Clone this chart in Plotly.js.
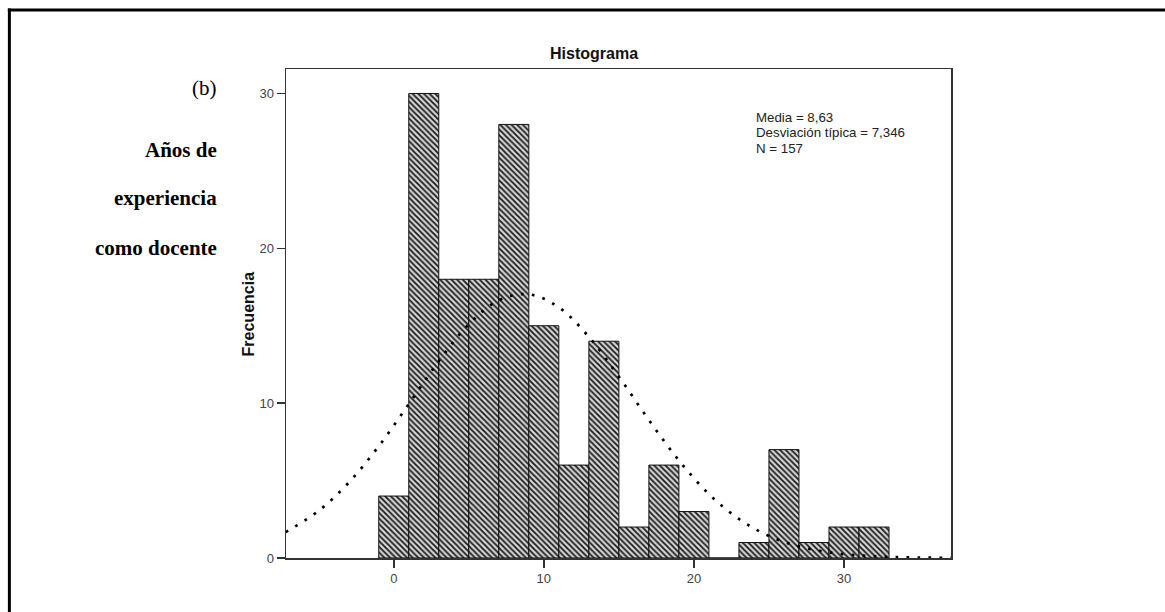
<!DOCTYPE html>
<html>
<head>
<meta charset="utf-8">
<script src="https://cdn.plot.ly/plotly-3.0.1.min.js"></script>
<style>
html,body{margin:0;padding:0;background:#fff;}
#chart{width:1165px;height:612px;}
</style>
</head>
<body>
<div id="chart"></div>
<script>
// ---- Data ----
const binCenters = [0, 2, 4, 6, 8, 10, 12, 14, 16, 18, 20, 22, 24, 26, 28, 30, 32];
const binCounts  = [4, 30, 18, 18, 28, 15, 6, 14, 2, 6, 3, 0, 1, 7, 1, 2, 2];
const binWidth = 2;
const curveX = [-7.2, -5, -3, -1, 1, 3, 5, 7, 9, 11, 13, 15, 17, 19, 21, 23, 25, 27, 29, 31, 33, 35, 37.2];
const curveY = [1.67, 3.05, 4.87, 7.22, 9.94, 12.71, 15.09, 16.64, 17.03, 16.19, 14.28, 11.71, 8.91, 6.30, 4.13, 2.52, 1.42, 0.75, 0.36, 0.17, 0.07, 0.03, 0.01];
const xTickVals = [0, 10, 20, 30];
const yTickVals = [0, 10, 20, 30];
const titleText = "Histograma";
const yTitleText = "Frecuencia";
const statsLines = ["Media = 8,63", "Desviación típica = 7,346", "N = 157"];
const sideLines = ["Años de", "experiencia", "como docente"];
const panelLabel = "(b)";

// ---- Layout geometry (pixels) ----
const W = 1165, H = 612;
const L = 286, R = 950.7, T = 69, B = 558.5;
const px = v => (v - L) / (R - L);
const py = v => (B - v) / (B - T);

const sans = "Liberation Sans, Arial, sans-serif";
const serif = "Liberation Serif, Times New Roman, serif";

const traces = [
  {
    type: "bar",
    x: binCenters,
    y: binCounts,
    width: binWidth,
    marker: {
      color: "#cfcfcf",
      line: {color: "#111", width: 1},
      pattern: {shape: "\\", fgcolor: "#1a1a1a", bgcolor: "#d4d4d4", size: 4, solidity: 0.45}
    },
    hoverinfo: "skip",
    showlegend: false
  },
  {
    type: "scatter",
    mode: "lines",
    x: curveX,
    y: curveY,
    line: {color: "#000", width: 2.7, dash: "2.7px,8.3px", shape: "spline"},
    hoverinfo: "skip",
    showlegend: false
  }
];

const annotations = [];
annotations.push({xref:"paper", yref:"paper", x: px(594), y: py(53), text: "<b>"+titleText+"</b>",
  showarrow:false, xanchor:"center", yanchor:"middle", font:{family:sans, size:16, color:"#111"}});
annotations.push({xref:"paper", yref:"paper", x: px(248), y: py(313.7), text: "<b>"+yTitleText+"</b>", textangle:-90,
  showarrow:false, xanchor:"center", yanchor:"middle", font:{family:sans, size:16, color:"#111"}});
const statY = [117.3, 132.7, 148.3];
statsLines.forEach((s,i) => annotations.push({xref:"paper", yref:"paper", x: px(754), y: py(statY[i]), text: s,
  showarrow:false, xanchor:"left", yanchor:"middle", font:{family:sans, size:13.3, color:"#222"}}));
annotations.push({xref:"paper", yref:"paper", x: px(219), y: py(88), text: panelLabel,
  showarrow:false, xanchor:"right", yanchor:"middle", font:{family:serif, size:21, color:"#000"}});
const sideY = [150, 198, 248];
sideLines.forEach((s,i) => annotations.push({xref:"paper", yref:"paper", x: px(219), y: py(sideY[i]), text: "<b>"+s+"</b>",
  showarrow:false, xanchor:"right", yanchor:"middle", font:{family:serif, size:21, color:"#000"}}));

const shapes = [
  {type:"line", xref:"paper", yref:"paper", x0: px(9.5), x1: px(9.5), y0: py(8.5), y1: py(H+2), line:{color:"#000", width:3}},
  {type:"line", xref:"paper", yref:"paper", x0: px(8), x1: px(W+2), y0: py(10), y1: py(10), line:{color:"#000", width:3}}
];

const axisCommon = {
  showline: true, linecolor: "#333", linewidth: 1.5, mirror: true,
  ticks: "outside", ticklen: 8, tickwidth: 1.5, tickcolor: "#333",
  showgrid: false, zeroline: false,
  tickfont: {family: sans, size: 13, color: "#444"}
};

const layout = {
  width: W, height: H,
  margin: {l: L, r: W - R, t: T, b: H - B, pad: 0},
  paper_bgcolor: "#fff", plot_bgcolor: "#fff",
  bargap: 0,
  xaxis: Object.assign({}, axisCommon, {range: [-7.18, 37.13], tickmode: "array", tickvals: xTickVals, ticktext: xTickVals.map(String)}),
  yaxis: Object.assign({}, axisCommon, {range: [0, 31.58], tickmode: "array", tickvals: yTickVals, ticktext: yTickVals.map(String)}),
  annotations: annotations,
  shapes: shapes,
  showlegend: false
};

Plotly.newPlot("chart", traces, layout, {displayModeBar: false, staticPlot: true});
</script>
</body>
</html>
